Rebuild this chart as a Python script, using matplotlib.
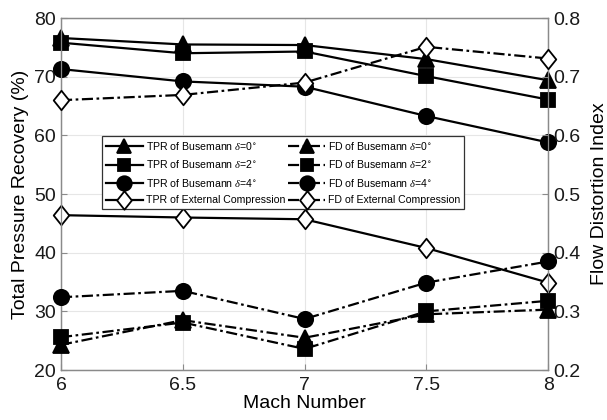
import matplotlib
matplotlib.use('Agg')
import matplotlib.pyplot as plt
from matplotlib.path import Path

# Dados
mach = [6, 6.5, 7, 7.5, 8]

tpr_d0 = [76.6, 75.5, 75.4, 73.0, 69.4]
tpr_d2 = [75.8, 74.0, 74.3, 70.1, 66.1]
tpr_d4 = [71.3, 69.2, 68.3, 63.3, 58.8]
tpr_ext = [46.4, 46.0, 45.7, 40.8, 34.9]

fd_d0 = [0.243, 0.285, 0.255, 0.295, 0.303]
fd_d2 = [0.256, 0.281, 0.236, 0.300, 0.318]
fd_d4 = [0.324, 0.335, 0.287, 0.349, 0.385]
fd_ext = [0.660, 0.669, 0.690, 0.751, 0.731]

tpr_labels = [r'TPR of Busemann $\delta$=0$^{\circ}$', r'TPR of Busemann $\delta$=2$^{\circ}$',
              r'TPR of Busemann $\delta$=4$^{\circ}$', 'TPR of External Compression']
fd_labels = [r'FD of Busemann $\delta$=0$^{\circ}$', r'FD of Busemann $\delta$=2$^{\circ}$',
             r'FD of Busemann $\delta$=4$^{\circ}$', 'FD of External Compression']

plt.rcParams['font.family'] = ['Liberation Sans', 'DejaVu Sans']
plt.rcParams['mathtext.fontset'] = 'custom'
plt.rcParams['mathtext.it'] = 'Liberation Serif:italic'

# losango mais alto que largo (estilo MATLAB)
diamond = Path([(0, 1), (0.8, 0), (0, -1), (-0.8, 0), (0, 1)],
               [Path.MOVETO, Path.LINETO, Path.LINETO, Path.LINETO, Path.CLOSEPOLY])

fig = plt.figure(figsize=(6.07, 4.2), dpi=100)
ax1 = fig.add_axes([0.1005, 0.119, 0.8025, 0.838])
ax2 = ax1.twinx()

dash_dot = (0, (5, 1.6, 1.2, 1.6))
styles = [('^', 11, 'k'), ('s', 9.5, 'k'), ('o', 11, 'k'), (diamond, 14, 'white')]

handles = []
for vals, lab, (m, ms, fc) in zip([tpr_d0, tpr_d2, tpr_d4, tpr_ext], tpr_labels, styles):
    h, = ax1.plot(mach, vals, color='k', lw=1.6, marker=m, ms=ms, mfc=fc, mec='k',
                  mew=1.3, label=lab, clip_on=False, zorder=3)
    handles.append(h)
for vals, lab, (m, ms, fc) in zip([fd_d0, fd_d2, fd_d4, fd_ext], fd_labels, styles):
    h, = ax2.plot(mach, vals, color='k', lw=1.6, ls=dash_dot, marker=m, ms=ms, mfc=fc,
                  mec='k', mew=1.3, label=lab, clip_on=False, zorder=3)
    handles.append(h)

ax1.set_xlim(6, 8)
ax1.set_ylim(20, 80)
ax2.set_ylim(0.2, 0.8)
ax1.set_xticks([6, 6.5, 7, 7.5, 8])
ax1.set_xticklabels(['6', '6.5', '7', '7.5', '8'])
ax1.set_yticks([20, 30, 40, 50, 60, 70, 80])
ax2.set_yticks([0.2, 0.3, 0.4, 0.5, 0.6, 0.7, 0.8])

ax1.grid(True, color='#e6e6e6', lw=0.8)
ax1.set_axisbelow(True)

for ax in (ax1, ax2):
    for sp in ax.spines.values():
        sp.set_color('#8a8a8a')
        sp.set_linewidth(0.9)
    ax.tick_params(direction='in', length=4, width=0.8, color='#8a8a8a', labelsize=14,
                   labelcolor='#1a1a1a')
ax1.tick_params(axis='x', pad=5)

ax1.set_xlabel('Mach Number', fontsize=14, labelpad=0.5)
ax1.set_ylabel('Total Pressure Recovery (%)', fontsize=14, labelpad=4)
ax2.set_ylabel('Flow Distortion Index', fontsize=14, labelpad=8)

leg = ax2.legend(handles=handles, ncol=2, loc='upper left', bbox_to_anchor=(0.084, 0.665),
                 borderaxespad=0, fontsize=7.6, frameon=True, fancybox=False,
                 edgecolor='#333333', framealpha=1, handlelength=3.5, handletextpad=0.3,
                 columnspacing=0.3, labelspacing=0.62, borderpad=0.35, markerscale=0.95)
leg.get_frame().set_linewidth(0.9)
leg.set_zorder(10)

plt.savefig('out.png', dpi=100)
plt.close(fig)
